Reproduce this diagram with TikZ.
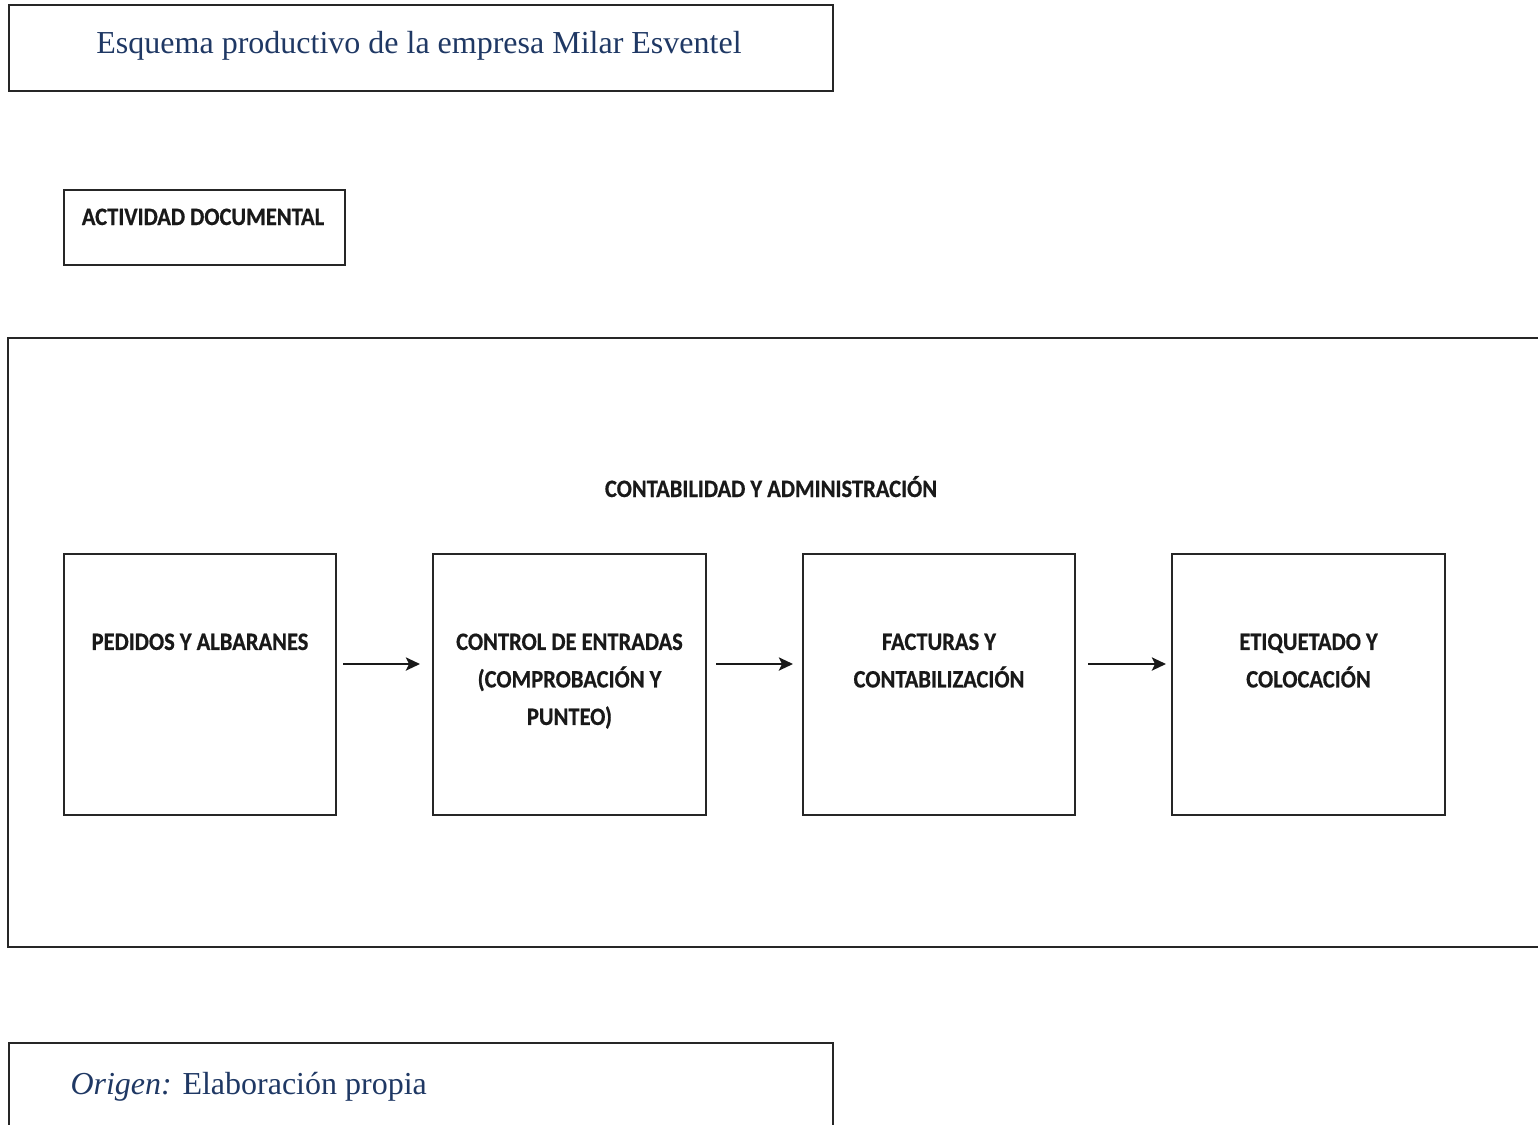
\documentclass[tikz,border=0pt]{standalone}
\usepackage{fontspec}
\usetikzlibrary{arrows.meta}
\setmainfont{Liberation Serif}
\newfontfamily\calb{Carlito}[BoldFont=* Bold,BoldFeatures={FakeStretch=0.9,FakeBold=0.6}]
\definecolor{navy}{HTML}{1F3864}
\begin{document}
\begin{tikzpicture}[x=1pt,y=-1pt,
  frame/.style={draw=black!85,line width=2pt},
  cal/.style={font=\calb\bfseries\fontsize{25}{37.5}\selectfont,text=black!90},
  procbox/.style={frame,minimum width=272pt,minimum height=261pt,anchor=north west,inner sep=0pt},
  proctext/.style={cal,align=center,anchor=north},
  flow/.style={-{Stealth[length=14pt,width=13pt,inset=3pt]},line width=2.6pt,black!90},
  serif/.style={font=\fontsize{32}{36}\selectfont,text=navy}]
\useasboundingbox (0,0) rectangle (1538,1124);
% title
\node[frame,anchor=north west,minimum width=824pt,minimum height=86pt,inner sep=0pt] (title) at (8,4) {};
\node[serif] (titletext) at (419,46) {Esquema productivo de la empresa Milar Esventel};
% actividad documental
\node[frame,anchor=north west,minimum width=281pt,minimum height=75pt,inner sep=0pt] (act) at (63,189) {};
\node[cal,anchor=base] (acttext) at (203,225) {ACTIVIDAD DOCUMENTAL};
% large frame (open on right)
\node[frame,anchor=north west,minimum width=1600pt,minimum height=609pt,inner sep=0pt] (big) at (7,337) {};
\node[cal,anchor=base] (bigtext) at (771,497) {CONTABILIDAD Y ADMINISTRACIÓN};
% process boxes
\node[procbox,minimum width=272pt] (b1) at (63,553) {};
\node[procbox,minimum width=273pt] (b2) at (432,553) {};
\node[procbox,minimum width=272pt] (b3) at (802,553) {};
\node[procbox,minimum width=273pt] (b4) at (1171,553) {};
\node[proctext] (t1) at ([yshift=-77pt]b1.north) {PEDIDOS Y ALBARANES};
\node[proctext] (t2) at ([yshift=-77pt]b2.north) {CONTROL DE ENTRADAS\\(COMPROBACIÓN Y\\PUNTEO)};
\node[proctext] (t3) at ([yshift=-77pt]b3.north) {FACTURAS Y\\CONTABILIZACIÓN};
\node[proctext] (t4) at ([yshift=-77pt]b4.north) {ETIQUETADO Y\\COLOCACIÓN};
% arrows
\coordinate (a1s) at (343,664); \coordinate (a1e) at (420,664);
\coordinate (a2s) at (716,664); \coordinate (a2e) at (793,664);
\coordinate (a3s) at (1088,664); \coordinate (a3e) at (1166,664);
\draw[flow] (a1s) -- (a1e);
\draw[flow] (a2s) -- (a2e);
\draw[flow] (a3s) -- (a3e);
% origin frame (open at bottom)
\node[frame,anchor=north west,minimum width=824pt,minimum height=150pt,inner sep=0pt] (orig) at (8,1042) {};
\node[serif,anchor=base west] (origtext) at (67,1094) {{\itshape Origen:} Elaboración propia};
\end{tikzpicture}
\end{document}
